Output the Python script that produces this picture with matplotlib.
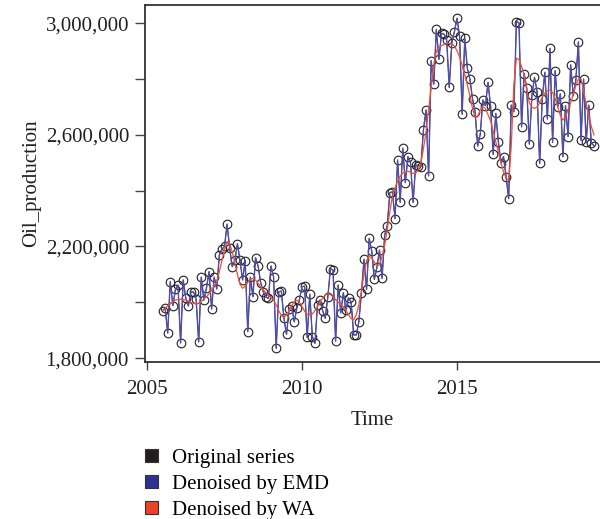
import matplotlib
matplotlib.use("Agg")
import matplotlib.pyplot as plt
from matplotlib.patches import Patch
from matplotlib.ticker import FuncFormatter, FixedLocator
import numpy as np

plt.rcParams['font.family'] = ['Liberation Serif', 'DejaVu Serif']

start_year = 2005.5  # July 2005, monthly observations

original_k = [
    1969, 1980, 1890, 2074, 1988, 2046, 2062, 1854, 2080, 2015,
    1987, 2037, 2037, 2012, 1858, 2090, 2008, 2050, 2110, 1976,
    2090, 2048, 2170, 2190, 2200, 2280, 2193, 2128, 2150, 2210,
    2150, 2080, 2149, 1895, 2090, 2020, 2160, 2130, 2070, 2038,
    2019, 2014, 2130, 2090, 1835, 2038, 2040, 1943, 1885, 1975,
    1987, 1930, 1980, 2010, 2056, 2058, 1874, 2029, 1877, 1853,
    1992, 2008, 1969, 1943, 2020, 2120, 2116, 1861, 2062, 1962,
    2034, 1972, 2016, 2002, 1883, 1883, 1930, 2034, 2154, 2046,
    2229,
    2184, 2082, 2126, 2187, 2086, 2241, 2275, 2393, 2396, 2300,
    2510, 2358, 2552, 2429, 2522, 2502, 2358, 2492, 2490, 2486,
    2618, 2689, 2453, 2866, 2782, 2978, 2871, 2964, 2961, 2940,
    2770, 2930, 2970, 3018, 2954, 2674, 2946, 2839, 2800, 2729,
    2683, 2560, 2602, 2725, 2705, 2788, 2704, 2530, 2677, 2576,
    2500, 2522, 2450, 2372, 2707, 2683, 3006, 3002, 2629, 2820,
    2767, 2567, 2743, 2806, 2755, 2498, 2729, 2824, 2657, 2910,
    2573, 2830, 2700, 2747, 2522, 2705, 2594, 2851, 2740, 2797,
    2934, 2580, 2800, 2573, 2707, 2572, 2561,
]

# EMD-denoised series coincides with the original at this resolution
emd_k = list(original_k)

wa_k = [
    1970, 1978, 1987, 1995, 2003, 2008,
    2010, 2011, 2010, 2008, 2004, 2000, 1996,
    1994, 1996, 2003, 2012, 2020,
    2030, 2043, 2058, 2074,
    2110, 2150, 2190, 2217,
    2210, 2180,
    2140, 2100, 2065, 2050,
    2058, 2072, 2083, 2086,
    2080, 2068, 2055, 2044,
    2035, 2025, 2016, 2008,
    1990, 1970, 1952, 1946,
    1955, 1970, 1988, 2002, 2008,
    2000, 1985, 1968, 1957, 1954,
    1958, 1970, 1985, 2000, 2015, 2026, 2030,
    2028, 2020, 2010, 2000, 1992, 1984,
    1970, 1955, 1942, 1937,
    1955, 1990, 2040,
    2100, 2150, 2165, 2158,
    2145, 2130, 2135,
    2165, 2205, 2260, 2325, 2380,
    2410, 2435, 2452, 2463, 2468,
    2470, 2466, 2462, 2463,
    2475, 2500, 2550,
    2610, 2690, 2770,
    2850, 2900, 2915,
    2920, 2925, 2928, 2928, 2926,
    2918, 2902, 2880,
    2850, 2815, 2780,
    2740, 2695, 2662,
    2665, 2690, 2701,
    2695, 2672, 2650,
    2615, 2575, 2540,
    2500, 2468, 2445, 2438,
    2560, 2780, 2875,
    2870, 2845, 2815,
    2760, 2715, 2700,
    2695, 2700, 2715, 2735,
    2750, 2758, 2761, 2752,
    2730, 2700, 2670, 2653,
    2665, 2690, 2715,
    2745, 2778, 2800, 2800,
    2760, 2710, 2670, 2630, 2600,
]

series_labels = ["Original series", "Denoised by EMD", "Denoised by WA"]
series_colors = ["#231f20", "#2e3192", "#ef4123"]

y_major = [1800000, 2200000, 2600000, 3000000]
y_minor = [2000000, 2400000, 2800000]
x_ticks = [2005, 2010, 2015]

t = start_year + np.arange(len(original_k)) / 12.0
orig = np.array(original_k) * 1000.0
emd = np.array(emd_k) * 1000.0
wa = np.array(wa_k) * 1000.0

FS = 15

fig = plt.figure(figsize=(6.0, 5.19), dpi=100)
ax = fig.add_axes([145/600, 1 - 362/519, 455/600, 357/519])

ax.plot(t, orig, color="#231f20", lw=0.6, marker="o", ms=6.2,
        mfc="none", mec="#231f20", mew=0.8, zorder=2)
ax.plot(t, emd, color="#4e4eaa", lw=1.0, zorder=3)
ax.plot(t, wa, color="#f2502a", lw=0.9, zorder=4)

ax.set_xlim(2004.935, 2019.613)
ax.set_ylim(1786000, 3065600)

ax.xaxis.set_major_locator(FixedLocator(x_ticks))
ax.yaxis.set_major_locator(FixedLocator(y_major))
ax.yaxis.set_minor_locator(FixedLocator(y_minor))
ax.yaxis.set_major_formatter(FuncFormatter(lambda v, p: f"{int(round(v)):,}"))

for s in ["left", "top", "bottom"]:
    ax.spines[s].set_color("#333333")
    ax.spines[s].set_linewidth(1.3)
ax.spines["right"].set_visible(False)

ax.tick_params(axis="both", which="both", direction="out", color="#444444",
               width=1.0, labelsize=FS, labelcolor="#231f20")
ax.tick_params(axis="y", which="both", length=7.5, pad=4)
ax.tick_params(axis="x", which="major", length=6, pad=7)

ax.set_xlabel("Time", fontsize=FS, color="#231f20", labelpad=8.5)
ax.set_ylabel("Oil_production", fontsize=FS, color="#231f20", labelpad=3)

handles = [Patch(facecolor=c, edgecolor="#333333", linewidth=0.8) for c in series_colors]
fig.legend(handles, series_labels, loc="upper left",
           bbox_to_anchor=(145/600, 1 - 449/519), frameon=False,
           fontsize=FS, handlelength=0.6, handleheight=0.6,
           handletextpad=0.72, labelspacing=0.33, borderpad=0, borderaxespad=0)

fig.savefig("out.png", dpi=100)
